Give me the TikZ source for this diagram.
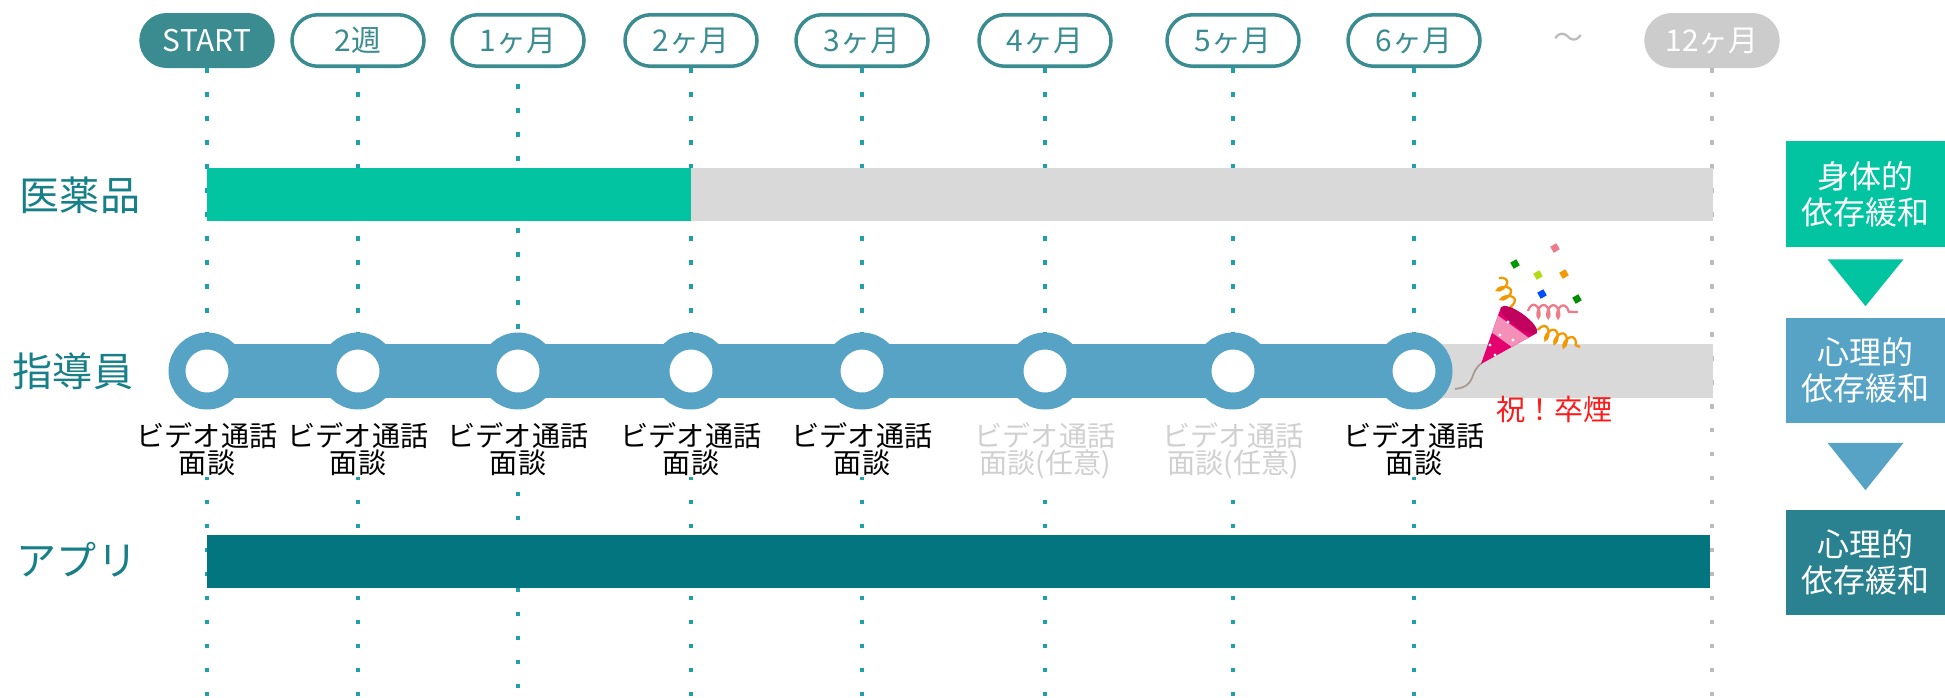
\documentclass[tikz,border=0pt]{standalone}
\usepackage{fontspec}
\setmainfont{Noto Sans CJK JP}
\usetikzlibrary{calc,positioning,shapes.misc,decorations.pathmorphing}
\definecolor{pillteal}{HTML}{3A8C91}
\definecolor{labelteal}{HTML}{167F88}
\definecolor{dotteal}{HTML}{1FA0AB}
\definecolor{druggreen}{HTML}{03C4A1}
\definecolor{visitblue}{HTML}{56A3C6}
\definecolor{appteal}{HTML}{03757E}
\definecolor{boxteal}{HTML}{2A8291}
\definecolor{restgray}{HTML}{D9D9D9}
\definecolor{pillgray}{HTML}{CCCCCC}
\definecolor{dotgray}{HTML}{BBBBBB}
\definecolor{optgray}{HTML}{D0D0D0}
\definecolor{popred}{HTML}{FF1A1A}
\definecolor{conepink}{HTML}{E4006E}
\definecolor{bandpink}{HTML}{F48FB8}
\definecolor{streamorange}{HTML}{F39800}
\definecolor{streampink}{HTML}{EE7B8A}
\definecolor{stringbrown}{HTML}{A89A8C}
\tikzset{
  pill/.style={rounded rectangle, draw=pillteal, line width=2pt, fill=white,
    text=pillteal, minimum width=2.64cm, minimum height=1.03cm, inner sep=0pt,
    font=\fontsize{17pt}{20pt}\selectfont},
  pillfull/.style={pill, fill=pillteal, text=white},
  pilloff/.style={pill, draw=pillgray, fill=pillgray, text=white},
  guide/.style={line width=2.7pt, dash pattern=on 2.7pt off 10.95pt},
  rowlabel/.style={text=labelteal, font=\fontsize{22.8pt}{26pt}\selectfont},
  visit/.style={circle, draw=visitblue, line width=0.34cm, fill=white,
    minimum size=1.2cm, inner sep=0pt},
  talk/.style={align=center, inner sep=1pt, fill=white,
    font=\fontsize{16pt}{15.4pt}\selectfont},
  relief/.style={minimum width=3.18cm, minimum height=2.12cm, inner sep=0pt,
    text=white, align=center, font=\fontsize{18.2pt}{20.5pt}\selectfont},
  coilline/.style={line width=1.3pt, decorate,
    decoration={coil, amplitude=3.6pt, segment length=5.6pt}},
}
\begin{document}
\begin{tikzpicture}[x=0.02cm, y=-0.02cm]
  \useasboundingbox (0,0) rectangle (1945,697);
  % month pills
  \node[pillfull] (p1) at (207,40.5) {START};
  \node[pill] (p2) at (358,40.5) {2週};
  \node[pill] (p3) at (518,40.5) {1ヶ月};
  \node[pill] (p4) at (691,40.5) {2ヶ月};
  \node[pill] (p5) at (862,40.5) {3ヶ月};
  \node[pill] (p6) at (1045,40.5) {4ヶ月};
  \node[pill] (p7) at (1233,40.5) {5ヶ月};
  \node[pill] (p8) at (1414,40.5) {6ヶ月};
  \node[text=dotgray, font=\fontsize{17pt}{20pt}\selectfont] (tilde) at (1568,40.5) {～};
  \node[pilloff] (p12) at (1712,40.5) {12ヶ月};
  % guide lines
  \foreach \i/\ph in {1/0, 2/0, 3/4.55, 4/0, 5/0, 6/0, 7/0, 8/0}
    \draw[guide, dotteal, dash phase=\ph pt] (p\i.south) -- (p\i.south |- 0,697);
  \draw[guide, dotgray] (p12.south) -- (p12.south |- 0,697);
  % rows
  \node[rowlabel] (drug) at (80,195) {医薬品};
  \node[rowlabel] (coach) at (73,371) {指導員};
  \node[rowlabel] (app) at (77,560) {アプリ};
  \fill[druggreen] (207,168) rectangle (691,221);
  \fill[restgray] (691,168) rectangle (1713,221);
  \fill[restgray] (1400,344) rectangle (1713,398);
  \fill[visitblue] (207,344) rectangle (1414,398);
  \fill[appteal] (207,535) rectangle (1710,588);
  % visits
  \foreach \x [count=\i] in {207,358,518,691,862,1045,1233,1414}
    \node[visit] (v\i) at (\x,371) {};
  \foreach \i in {1,2,3,4,5,8}
    \node[talk, below=0.98cm of v\i.center] (t\i) {ビデオ通話\\面談};
  \foreach \i in {6,7}
    \node[talk, text=optgray, below=0.98cm of v\i.center] (t\i) {ビデオ通話\\面談(任意)};
  % party popper
  \draw[stringbrown, line width=1pt] (1482,363) .. controls (1468,372) and (1478,386) .. (1455,389);
  \draw[streamorange, coilline] (1499,278) -- (1514,314);
  \draw[streampink, coilline] (1528,311) -- (1578,312);
  \draw[streamorange, coilline] (1538,330) -- (1580,347);
  \coordinate (tip) at (1481,364);
  \coordinate (ea) at (1501,307);
  \coordinate (eb) at (1537,333);
  \fill[conepink] (tip) -- (ea) -- (eb) -- cycle;
  \fill[bandpink] ($(tip)!0.55!(ea)$) -- ($(tip)!0.85!(ea)$) -- ($(tip)!0.85!(eb)$) -- ($(tip)!0.55!(eb)$) -- cycle;
  \fill[conepink!85!black, rotate around={-36:(1519,320)}] (1519,320) ellipse (0.44cm and 0.14cm);
  \foreach \p in {(1490,345),(1500,335),(1508,322),(1513,340),(1495,355)}
    \fill[white] \p circle (1.6);
  \foreach \p/\c in {(1555,248)/streampink, (1515,264)/green!60!black, (1538,275)/yellow!70!green,
      (1564,274)/streamorange, (1542,294)/blue!70!cyan, (1577,299)/green!55!black}
    \fill[\c, rotate around={30:\p}] \p ++(-3.5,-3.5) rectangle ++(7,7);
  \node[text=popred, font=\fontsize{16.5pt}{20pt}\selectfont] (quit) at (1554,410) {祝！卒煙};
  % relief boxes
  \node[relief, fill=druggreen] (b1) at (1865.5,194) {身体的\\依存緩和};
  \node[relief, fill=visitblue] (b2) at (1865.5,370.5) {心理的\\依存緩和};
  \node[relief, fill=boxteal] (b3) at (1865.5,562.5) {心理的\\依存緩和};
  \fill[druggreen] ($(b1.south)+(-38,12)$) -- ($(b1.south)+(38,12)$) -- ($(b2.north)+(0,-11)$) -- cycle;
  \fill[visitblue] ($(b2.south)+(-38,19)$) -- ($(b2.south)+(38,19)$) -- ($(b3.north)+(0,-19)$) -- cycle;
\end{tikzpicture}
\end{document}
